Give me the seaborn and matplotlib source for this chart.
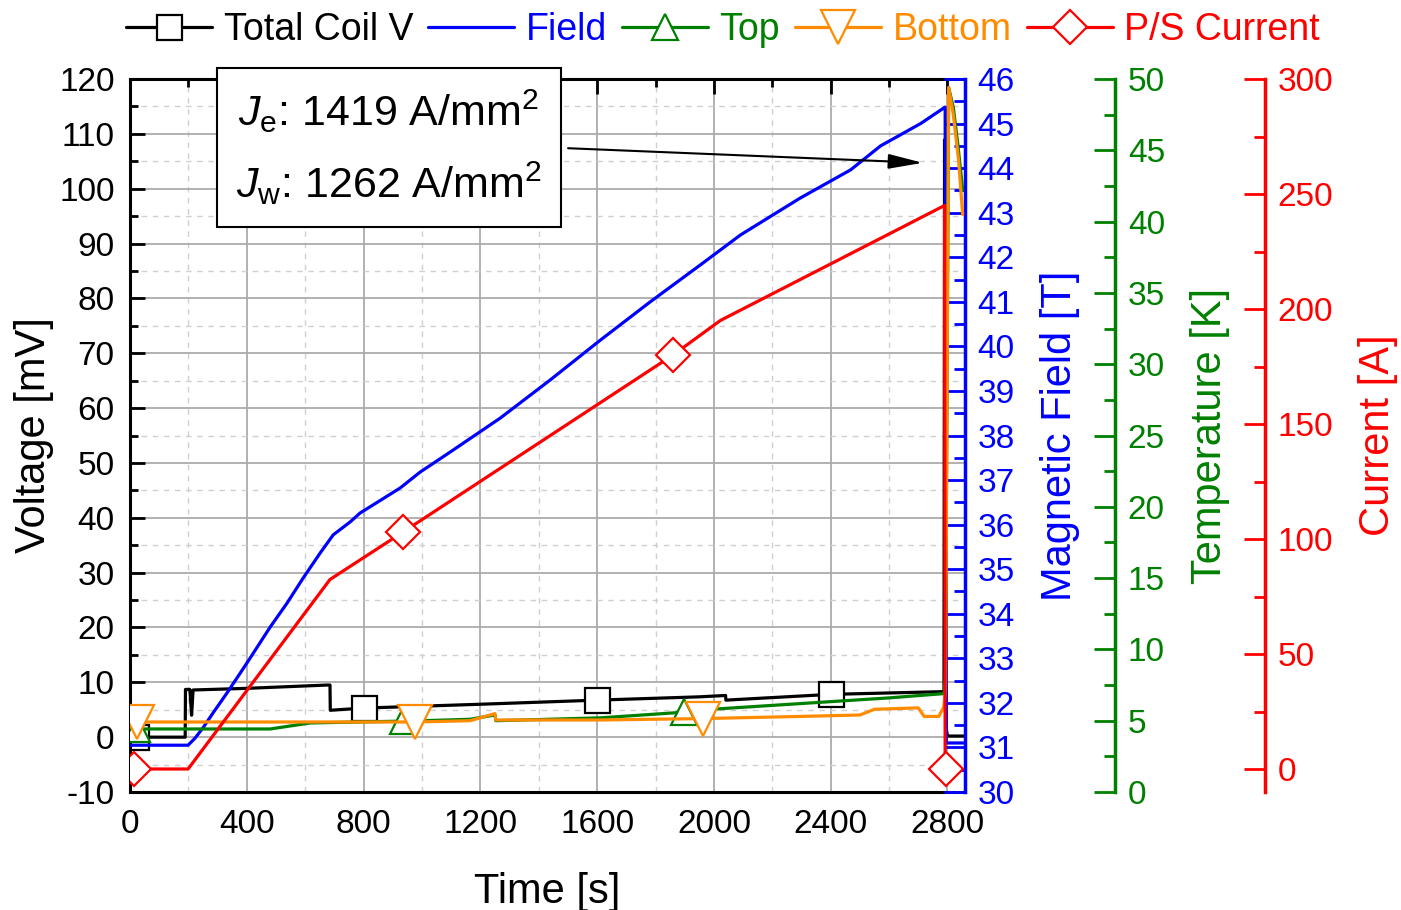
import matplotlib
matplotlib.use("Agg")
import matplotlib.pyplot as plt
from matplotlib.ticker import MultipleLocator
import seaborn as sns

# ---- values ----
# Total coil voltage [mV] vs time [s]
t_coil = [0, 20, 189, 190, 205, 211, 216, 400, 675, 685, 686, 800, 1200, 1600,
          1950, 2040, 2041, 2400, 2788, 2790, 2795, 2800, 2855]
v_coil = [0, 0, 0, 8.7, 8.7, 4.0, 8.6, 8.9, 9.5, 9.5, 4.9, 5.3, 6.0, 6.75,
          7.35, 7.6, 6.75, 7.8, 8.3, 108.9, 1.8, 0.2, 0.2]
coil_marks = [20, 800, 1600, 2400]

# Magnetic field [T]
t_field = [0, 199, 223, 250, 284, 332, 401, 480, 538, 593, 651, 696, 754, 788,
           925, 994, 1097, 1268, 1440, 1611, 1782, 1954, 2091, 2296, 2468,
           2571, 2708, 2792, 2796, 2855]
b_field = [31.05, 31.05, 31.21, 31.44, 31.77, 32.22, 32.9, 33.7, 34.24, 34.8,
           35.36, 35.77, 36.06, 36.26, 36.82, 37.18, 37.63, 38.39, 39.25,
           40.14, 41.0, 41.83, 42.5, 43.33, 43.96, 44.5, 45.0, 45.37, 31.1, 31.1]

# Top temperature [K]
t_top = [0, 25, 480, 617, 880, 936, 1000, 1165, 1250, 1253, 1611, 1899, 1954,
         2296, 2600, 2788, 2793, 2804, 2820, 2835, 2852]
k_top = [4.42, 4.42, 4.42, 4.84, 4.95, 4.97, 5.0, 5.1, 5.4, 5.0, 5.2, 5.6,
         5.75, 6.2, 6.6, 6.9, 8.0, 49.4, 48.0, 45.5, 42.2]
top_marks = [25, 936, 1899]

# Bottom temperature [K]
t_bot = [0, 25, 977, 1165, 1250, 1253, 1611, 1964, 2296, 2500, 2550, 2700,
         2720, 2770, 2787, 2793, 2804, 2820, 2838, 2852]
k_bot = [4.91, 4.91, 4.91, 5.0, 5.5, 5.05, 5.05, 5.15, 5.3, 5.4, 5.8, 5.9,
         5.3, 5.3, 5.95, 7.0, 49.4, 47.5, 44.3, 40.5]
bot_marks = [25, 977, 1964]

# Power supply current [A]
t_cur = [0, 15, 199, 685, 935, 1860, 2022, 2790, 2792, 2795]
i_cur = [0, 0, 0, 82.4, 103, 180, 195, 245, 0, 0]
cur_marks = [15, 935, 1860, 2795]

labels = ["Total Coil V", "Field", "Top", "Bottom", "P/S Current"]

C_BLK = "black"
C_BLUE = "#0000ff"
C_GRN = "#008000"
C_ORG = "#ff8c00"
C_RED = "#ff0000"

sns.set_style("white")
plt.rcParams["font.family"] = ["Liberation Sans", "DejaVu Sans"]
plt.rcParams["mathtext.fontset"] = "custom"
plt.rcParams["mathtext.rm"] = "Liberation Sans"
plt.rcParams["mathtext.it"] = "Liberation Sans:italic"
plt.rcParams["axes.unicode_minus"] = False
plt.rcParams["text.color"] = "black"
plt.rcParams["axes.labelcolor"] = "black"

W, H = 1401, 910
fig = plt.figure(figsize=(W / 100, H / 100), dpi=100)
ax = fig.add_axes([130 / W, 1 - 792 / H, 835 / W, 713 / H])
ax_b = ax.twinx()
ax_t = ax.twinx()
ax_i = ax.twinx()


def draw(axis, x, y, color, marker=None, marks=None, ms=18):
    kw = dict(color=color, lw=2.3, estimator=None, sort=False, legend=False)
    if marker:
        kw.update(marker=marker, markevery=[x.index(m) for m in marks], ms=ms,
                  markerfacecolor="white", markeredgecolor=color,
                  markeredgewidth=1.6)
    sns.lineplot(x=x, y=y, ax=axis, **kw)
    return axis.lines[-1]


h_coil = draw(ax, t_coil, v_coil, C_BLK, "s", coil_marks, 18)
h_field = draw(ax_b, t_field, b_field, C_BLUE)
h_top = draw(ax_t, t_top, k_top, C_GRN, "^", top_marks, 19)
h_bot = draw(ax_t, t_bot, k_bot, C_ORG, "v", bot_marks, 24)
h_cur = draw(ax_i, t_cur, i_cur, C_RED, "D", cur_marks, 17)

# main (voltage) axis
ax.set_xlim(0, 2860)
ax.set_ylim(-10, 120)
ax.xaxis.set_major_locator(MultipleLocator(400))
ax.xaxis.set_minor_locator(MultipleLocator(200))
ax.yaxis.set_major_locator(MultipleLocator(10))
ax.yaxis.set_minor_locator(MultipleLocator(5))
ax.grid(which="major", color="#ababab", lw=1.3, ls="-")
ax.grid(which="minor", color="#d0d0d0", lw=1.0, ls=(0, (4, 4)))
ax.set_axisbelow(True)
ax.tick_params(which="both", direction="in", top=True, right=False,
               width=2, labelsize=24, colors="black")
ax.tick_params(axis="y", pad=11)
ax.tick_params(axis="x", pad=12)
ax.tick_params(which="major", length=11)
ax.tick_params(which="minor", length=6)
for s in ["left", "bottom", "top"]:
    ax.spines[s].set_color("black")
    ax.spines[s].set_linewidth(2.2)
ax.spines["right"].set_visible(False)
ax.set_xlabel("Time [s]", fontsize=30, labelpad=23)
ax.set_ylabel("Voltage [mV]", fontsize=30, labelpad=4)


def side_axis(axis, color, lo, hi, major, minor, label, offset=None):
    axis.set_ylim(lo, hi)
    axis.yaxis.set_major_locator(MultipleLocator(major))
    axis.yaxis.set_minor_locator(MultipleLocator(minor))
    for s in ["left", "top", "bottom"]:
        axis.spines[s].set_visible(False)
    axis.spines["right"].set_color(color)
    axis.spines["right"].set_linewidth(2.5)
    if offset is not None:
        axis.spines["right"].set_position(("axes", offset))
    axis.tick_params(axis="y", which="both", direction="in", colors=color,
                     width=2, labelsize=24, pad=9)
    axis.tick_params(axis="y", which="major", length=15)
    axis.tick_params(axis="y", which="minor", length=8)
    axis.set_ylabel(label, color=color, fontsize=30, labelpad=18)
    axis.grid(False)


side_axis(ax_b, C_BLUE, 30, 46, 1, 0.5, "Magnetic Field [T]")
side_axis(ax_t, C_GRN, 0, 50, 5, 2.5, "Temperature [K]", 1.18)
side_axis(ax_i, C_RED, -10, 300, 50, 25, "Current [A]", 1.359)

# annotation box and arrow
note = (r"$J_\mathregular{e}$: 1419 A/mm$^\mathregular{2}$" + "\n"
        r"$J_\mathregular{w}$: 1262 A/mm$^\mathregular{2}$")
ax_i.text(0.310, 0.904, note, transform=ax.transAxes, fontsize=31,
          ha="center", va="center", linespacing=1.65, clip_on=False, zorder=10,
          bbox=dict(boxstyle="square,pad=0.45", fc="white", ec="black", lw=1.5))
ax_i.annotate("", xy=(2725, 104.7), xytext=(1491, 107.4),
              xycoords=ax.transData, textcoords=ax.transData,
              arrowprops=dict(arrowstyle="-|>,head_length=1.4,head_width=0.3",
                              color="black", lw=1.5, mutation_scale=15),
              zorder=11)

# legend on top
handles = [h_coil, h_field, h_top, h_bot, h_cur]
fig.legend(handles, labels, loc="center", bbox_to_anchor=(0.516, 0.967),
           ncol=5, frameon=False, fontsize=27, handlelength=2.3,
           handletextpad=0.3, columnspacing=0.4, labelcolor="linecolor")

fig.savefig("out.png", dpi=100)
